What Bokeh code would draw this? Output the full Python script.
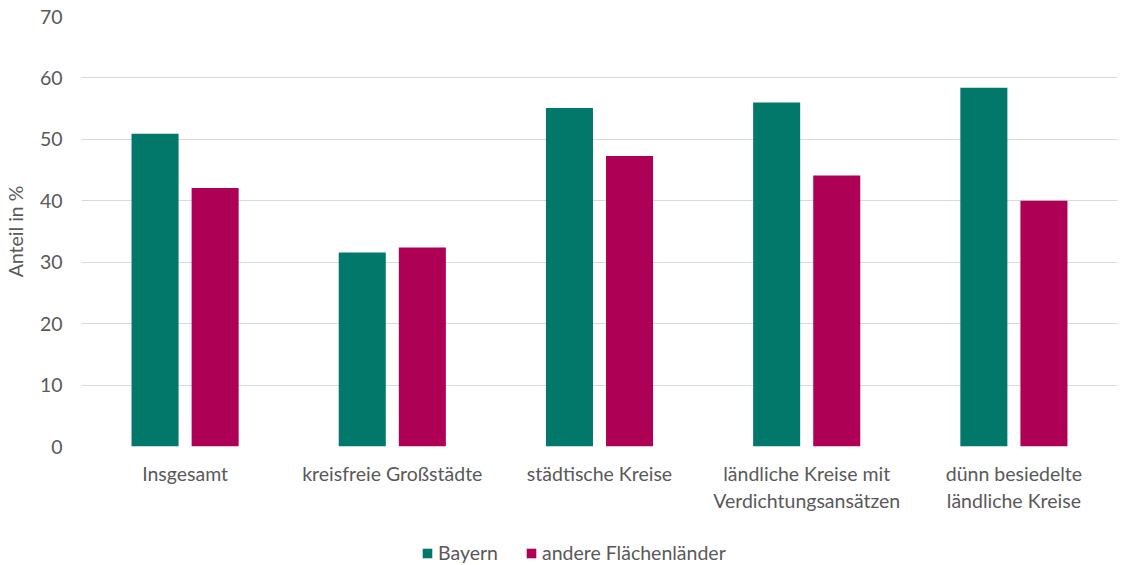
from bokeh.plotting import figure
from bokeh.models import ColumnDataSource, FactorRange, Legend, LegendItem, FixedTicker, Range1d
from bokeh.layouts import column
from bokeh.transform import dodge
from bokeh.embed import file_html
from bokeh.resources import INLINE

categories = ["Insgesamt", "kreisfreie Großstädte", "städtische Kreise",
              "ländliche Kreise mit\nVerdichtungsansätzen", "dünn besiedelte\nländliche Kreise"]
bayern = [50.9, 31.6, 55.1, 56.0, 58.4]
andere = [42.1, 32.4, 47.3, 44.1, 40.0]
series_names = ["Bayern", "andere Flächenländer"]
y_ticks = [0, 10, 20, 30, 40, 50, 60, 70]

TEAL = "#02786B"
MAGENTA = "#AE0054"
TXT = "#595959"
FONT = "Lato"
FS = "19.5px"

src = ColumnDataSource(dict(cat=categories, bayern=bayern, andere=andere))

p = figure(x_range=FactorRange(factors=categories), y_range=Range1d(0, 70),
           width=1126, height=530, output_backend="svg", toolbar_location=None,
           min_border_top=16, min_border_right=9, min_border_left=81, min_border_bottom=84)

r1 = p.vbar(x=dodge("cat", -0.145, range=p.x_range), top="bayern", width=0.227,
            source=src, fill_color=TEAL, line_color=None)
r2 = p.vbar(x=dodge("cat", 0.145, range=p.x_range), top="andere", width=0.227,
            source=src, fill_color=MAGENTA, line_color=None)

p.outline_line_color = None
p.xgrid.grid_line_color = None
p.ygrid.grid_line_color = "#D9D9D9"
p.ygrid.grid_line_width = 1
p.yaxis.ticker = FixedTicker(ticks=y_ticks)

for ax in (p.xaxis[0], p.yaxis[0]):
    ax.axis_line_color = None
    ax.major_tick_line_color = None
    ax.minor_tick_line_color = None
    ax.major_tick_out = 0
    ax.major_tick_in = 0
    ax.major_label_text_color = TXT
    ax.major_label_text_font = FONT
    ax.major_label_text_font_size = FS

p.xaxis.major_label_standoff = 15
p.yaxis.major_label_standoff = 19
p.yaxis.axis_label = "Anteil in %"
p.yaxis.axis_label_text_font = FONT
p.yaxis.axis_label_text_font_size = FS
p.yaxis.axis_label_text_font_style = "normal"
p.yaxis.axis_label_text_color = TXT
p.yaxis.axis_label_standoff = 10

# legend strip below the chart (its renderers are hidden; only the legend shows)
lf = figure(width=1126, height=35, output_backend="svg", toolbar_location=None,
            x_range=FactorRange(factors=categories), y_range=Range1d(-2, -1),
            x_axis_location=None, y_axis_location=None,
            min_border=0, min_border_left=0, min_border_right=0,
            min_border_top=0, min_border_bottom=0)
lf.grid.visible = False
lf.outline_line_color = None
lr1 = lf.vbar(x=dodge("cat", -0.145, range=lf.x_range), top="bayern", width=0.227,
              source=src, fill_color=TEAL, line_color=None)
lr2 = lf.vbar(x=dodge("cat", 0.145, range=lf.x_range), top="andere", width=0.227,
              source=src, fill_color=MAGENTA, line_color=None)
lr1.visible = False
lr2.visible = False

legend = Legend(items=[LegendItem(label=series_names[0], renderers=[lr1]),
                       LegendItem(label=series_names[1], renderers=[lr2])],
                orientation="horizontal", location=(340, 1),
                label_text_font=FONT, label_text_font_size=FS, label_text_color=TXT,
                glyph_width=12, glyph_height=12, spacing=27, label_standoff=5,
                border_line_color=None, background_fill_alpha=0, padding=0, margin=0)
lf.add_layout(legend, "center")

layout = column(p, lf, spacing=0)
open("out.html", "w").write(file_html(layout, INLINE))
